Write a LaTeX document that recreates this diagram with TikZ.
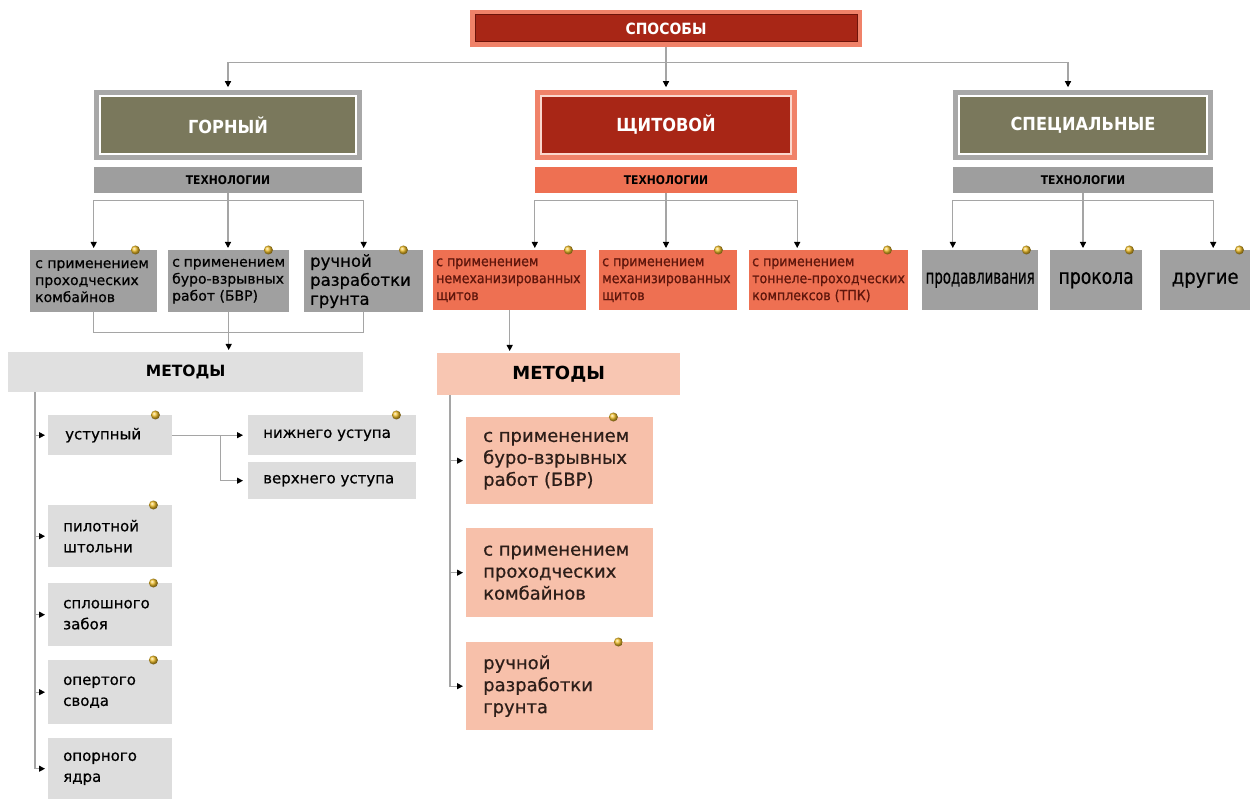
\documentclass[tikz,border=0pt]{standalone}
\usepackage{fontspec}
\usepackage{graphicx}
\setmainfont{DejaVu Sans}
\newfontfamily\condf{DejaVu Sans Condensed}
\newfontfamily\heavyf{DejaVu Sans}[FakeBold=0.6]
\newfontfamily\heavycondf{DejaVu Sans Condensed}[FakeBold=0.6]
\usetikzlibrary{arrows.meta,calc}
\hyphenpenalty=10000
\exhyphenpenalty=10000
\definecolor{darkred}{RGB}{168,38,22}
\definecolor{darkredline}{RGB}{110,20,10}
\definecolor{salmonframe}{RGB}{240,130,105}
\definecolor{olivebox}{RGB}{122,120,92}
\definecolor{framegray}{RGB}{168,168,168}
\definecolor{techgray}{RGB}{158,158,158}
\definecolor{techsalmon}{RGB}{238,112,82}
\definecolor{itemgray}{RGB}{160,160,160}
\definecolor{itemsalmon}{RGB}{238,112,82}
\definecolor{salmontext}{RGB}{95,22,12}
\definecolor{metgray}{RGB}{224,224,224}
\definecolor{boxgray}{RGB}{221,221,221}
\definecolor{metpink}{RGB}{248,198,178}
\definecolor{boxpink}{RGB}{247,192,170}
\definecolor{linegray}{RGB}{165,165,165}
\definecolor{dotc}{RGB}{240,190,40}
\definecolor{pinkline}{RGB}{250,215,205}
\newcommand\bx[8]{\node[#7,anchor=north west,minimum width=#4pt,minimum height=#5pt,inner sep=0pt] (#1) at (#2,#3) {\parbox{\dimexpr #4pt-#6pt-#6pt\relax}{\raggedright #8}};}
\newcommand\dt[2]{\shade[ball color=dotc] ($(#1.north east)+(-#2,0)$) circle (4.5pt);}
\begin{document}
\begin{tikzpicture}[x=1pt,y=-1pt,
  conn/.style={draw=linegray, line width=1.2pt},
  arr/.style={conn, -{Triangle[width=6pt,length=6pt,color=black]}, shorten >=2pt},
  hdr/.style={text=white, font=\condf\bfseries\fontsize{18}{20}\selectfont, inner sep=0pt},
  techbar/.style={font=\condf\bfseries\fontsize{12}{14}\selectfont, inner sep=0pt, minimum height=26pt},
  itemL/.style={fill=itemgray, text=black, font=\heavyf\fontsize{14}{17}\selectfont},
  itemLb/.style={fill=itemgray, text=black, font=\heavyf\fontsize{16.5}{19}\selectfont},
  itemM/.style={fill=itemsalmon, text=salmontext, font=\heavycondf\fontsize{14}{17}\selectfont},
  itemR/.style={fill=itemgray, text=black, inner sep=0pt, anchor=north west, minimum height=60pt},
  metbar/.style={anchor=north west, inner sep=0pt, font=\bfseries},
  metL/.style={fill=boxgray, text=black, font=\heavyf\fontsize{15}{21}\selectfont},
  metR/.style={fill=boxpink, text={rgb,255:red,45;green,30;blue,25}, font=\heavyf\fontsize{18}{22}\selectfont}
]
\fill[white] (0,0) rectangle (1253,799);
\useasboundingbox (0,0) rectangle (1253,799);

% top level
\node[hdr, font=\condf\bfseries\fontsize{15.5}{17}\selectfont, fill=darkred, draw=darkredline, line width=1pt,
  preaction={draw=salmonframe, line width=10pt}, minimum width=382pt, minimum height=27pt] (sposoby) at (666,28.5) {СПОСОБЫ};

\node[hdr, fill=olivebox, draw=white, line width=1.5pt, preaction={draw=framegray, line width=12pt},
  minimum width=256pt, minimum height=58pt] (gorny) at (228,125) {ГОРНЫЙ};
\node[hdr, fill=darkred, draw=pinkline, line width=1.5pt, preaction={draw=salmonframe, line width=12pt},
  minimum width=250pt, minimum height=58pt] (shchit) at (666,125) {ЩИТОВОЙ};
\node[hdr, fill=olivebox, draw=white, line width=1.5pt, preaction={draw=framegray, line width=12pt},
  minimum width=248pt, minimum height=58pt] (spec) at (1083,125) {СПЕЦИАЛЬНЫЕ};

\node[techbar, fill=techgray, minimum width=268pt] (techL) at (228,180) {ТЕХНОЛОГИИ};
\node[techbar, fill=techsalmon, minimum width=262pt] (techM) at (666,180) {ТЕХНОЛОГИИ};
\node[techbar, fill=techgray, minimum width=260pt] (techR) at (1083,180) {ТЕХНОЛОГИИ};

% technology items
\bx{t1}{30}{250}{127}{62}{5}{itemL}{с~применением\\проходческих\\комбайнов}
\bx{t2}{168}{250}{121}{62}{4}{itemL}{с~применением\\буро-взрывных\\работ~(БВР)}
\bx{t3}{304}{250}{119}{62}{6}{itemLb}{ручной\\разработки\\грунта}

\bx{m1}{433}{250}{153}{60}{3}{itemM}{с~применением\\немеханизированных\\щитов}
\bx{m2}{599}{250}{138}{60}{3}{itemM}{с~применением\\механизированных\\щитов}
\bx{m3}{749}{250}{159}{60}{3}{itemM}{с~применением\\тоннеле-проходческих\\комплексов~(ТПК)}

\node[itemR, minimum width=116pt] (r1) at (922,250) {\scalebox{0.74}[1]{\heavycondf\fontsize{20}{22}\selectfont продавливания}};
\node[itemR, minimum width=92pt] (r2) at (1050,250) {\scalebox{0.91}[1]{\heavycondf\fontsize{21}{23}\selectfont прокола}};
\node[itemR, minimum width=90pt] (r3) at (1160,250) {\heavycondf\fontsize{20}{22}\selectfont другие};

% methods bars
\node[metbar, fill=metgray, minimum width=355pt, minimum height=40pt, font=\bfseries\fontsize{15.5}{17}\selectfont] (metL) at (8,352) {МЕТОДЫ};
\node[metbar, fill=metpink, minimum width=243pt, minimum height=42pt, font=\bfseries\fontsize{18}{20}\selectfont] (metM) at (437,353) {МЕТОДЫ};

% left methods
\bx{u1}{48}{415}{124}{40}{17}{metL}{уступный}
\bx{u2}{48}{505}{124}{62}{15}{metL}{пилотной\\штольни}
\bx{u3}{48}{583}{124}{63}{15}{metL}{сплошного\\забоя}
\bx{u4}{48}{660}{124}{64}{15}{metL}{опертого\\свода}
\bx{u5}{48}{738}{124}{61}{15}{metL}{опорного\\ядра}
\bx{n1}{248}{415}{168}{40}{15}{metL}{нижнего~уступа}
\bx{n2}{248}{462}{168}{37}{15}{metL}{верхнего~уступа}

% shield methods
\bx{p1}{466}{417}{187}{87}{17}{metR}{с~применением\\буро-взрывных\\работ~(БВР)}
\bx{p2}{466}{528}{187}{89}{17}{metR}{с~применением\\проходческих\\комбайнов}
\bx{p3}{466}{642}{187}{88}{17}{metR}{ручной\\разработки\\грунта}

% connectors: top
\coordinate (j0) at ($(sposoby.south)+(0,20)$);
\draw[conn] ([yshift=-5pt]sposoby.south) -- (j0);
\draw[arr] (j0) -| ([yshift=6pt]gorny.north);
\draw[arr] (j0) -- ([yshift=6pt]shchit.north);
\draw[arr] (j0) -| ([xshift=-15pt,yshift=6pt]spec.north);

% technology brackets
\draw[conn] (techL.south) -- ++(0,7) coordinate (bL);
\draw[arr] (bL) -| (t1.north);
\draw[arr] (bL) -- (bL |- t2.north);
\draw[arr] (bL) -| (t3.north);

\draw[conn] (techM.south) -- ++(0,7) coordinate (bM);
\draw[arr] (bM) -| (techM.west |- m1.north);
\draw[arr] (bM) -- (bM |- m2.north);
\draw[arr] (bM) -| (techM.east |- m3.north);

\draw[conn] (techR.south) -- ++(0,7) coordinate (bR);
\draw[arr] (bR) -| (techR.west |- r1.north);
\draw[arr] (bR) -- (bR |- r2.north);
\draw[arr] (bR) -| (techR.east |- r3.north);

% to methods
\draw[conn] (t1.south) -- ++(0,20) -| (t3.south);
\draw[arr] (t2.south) -- (t2.south |- metL.north);
\draw[arr] (m1.south) -- (m1.south |- metM.north);

% left spine
\coordinate (sL) at ([xshift=27pt]metL.south west);
\draw[arr, shorten >=3pt] (sL) |- (u5.west);
\foreach \n in {u1,u2,u3,u4} \draw[arr, shorten >=3pt] (sL |- \n.west) -- (\n.west);
\draw[arr, shorten >=5pt] (u1.east) -- (n1.west);
\draw[arr, shorten >=5pt] ([xshift=48pt]u1.east) |- (n2.west);

% shield spine
\coordinate (sM) at ([xshift=13pt]metM.south west);
\draw[arr, shorten >=3pt] (sM) |- (p3.west);
\foreach \n in {p1,p2} \draw[arr, shorten >=3pt] (sM |- \n.west) -- (\n.west);

% yellow markers
\dt{t1}{22} \dt{t2}{21} \dt{t3}{20}
\dt{m1}{18} \dt{m2}{19} \dt{m3}{21}
\dt{r1}{12} \dt{r2}{13} \dt{r3}{11}
\dt{u1}{17} \dt{u2}{19} \dt{u3}{19} \dt{u4}{19}
\dt{n1}{20}
\dt{p1}{40} \dt{p3}{35}
\end{tikzpicture}
\end{document}
